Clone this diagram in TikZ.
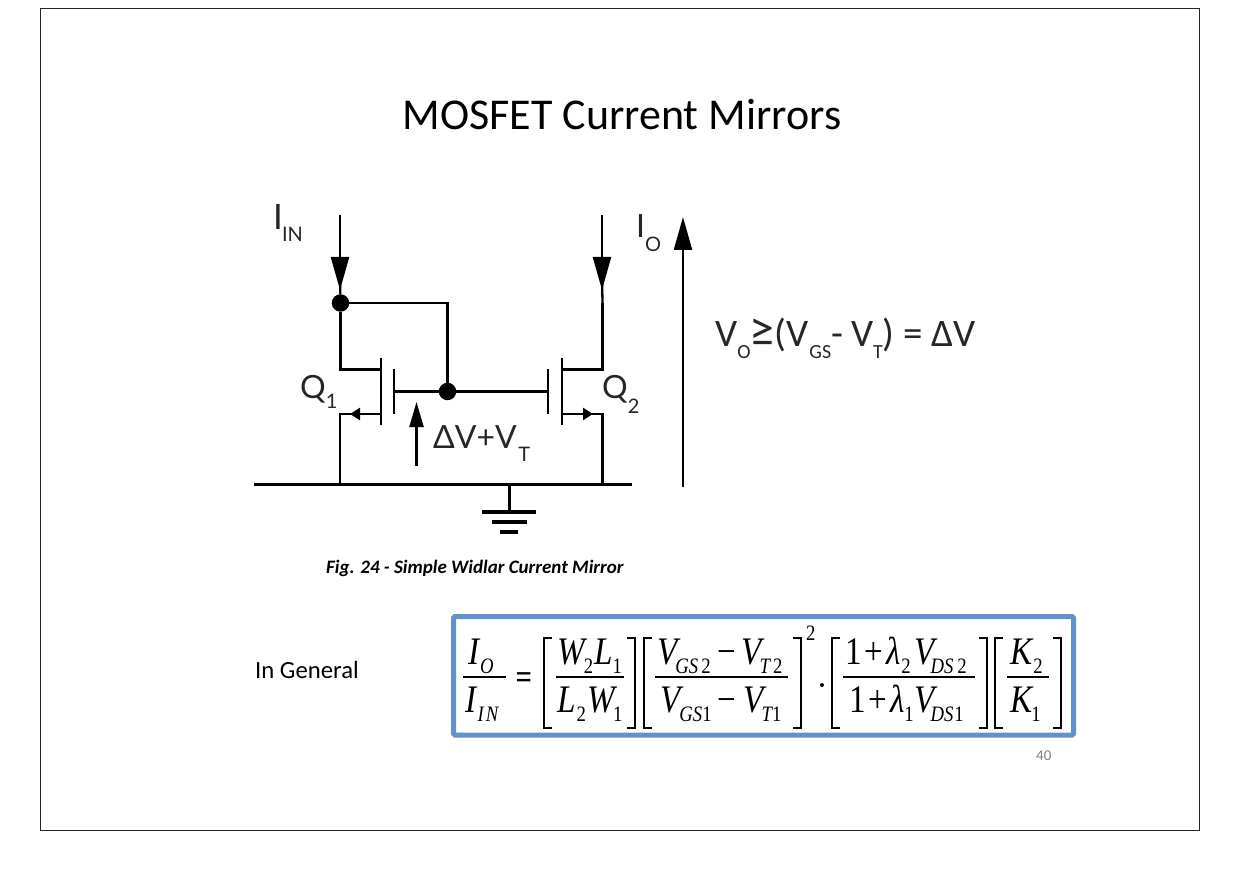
\documentclass[tikz,border=0pt]{standalone}
\usepackage{fontspec}
\setmainfont{Carlito}
\newfontfamily\circfont{Lato}
\newfontfamily\formfont[FakeStretch=0.85]{Liberation Serif}
\usetikzlibrary{arrows.meta,positioning}
\newcommand{\csub}[2][12pt]{\lower#1\hbox{\fontsize{20}{20}\selectfont #2}}
\newcommand{\fsub}[1]{\lower9pt\hbox{\fontsize{22}{22}\selectfont #1}}
\newcommand{\rsub}[1]{\lower9pt\hbox{\fontsize{22}{22}\selectfont\upshape #1}}
\definecolor{boxblue}{HTML}{6094C8}

\begin{document}
\begin{tikzpicture}[
    x=1pt,
    y=-1pt,
    wire/.style={
        draw,
        line width=2.3pt
    },
    railwire/.style={
        draw,
        line width=2.6pt
    },
    gatebar/.style={
        draw,
        line width=2.6pt
    },
    bighead/.style={
        draw,
        line width=2.3pt,
        -{Triangle[length=33pt,width=18pt]}
    },
    midhead/.style={
        draw,
        line width=2.3pt,
        -{Triangle[length=10pt,width=12pt]}
    },
    senseline/.style={
        draw,
        line width=2.3pt,
        -{Triangle[length=25pt,width=14pt]}
    },
    jointdot/.style={
        circle,
        fill=black,
        inner sep=0pt,
        minimum size=17.5pt
    },
    circlabel/.style={
        anchor=base west,
        inner sep=0pt,
        font=\circfont\fontsize{32}{32}\selectfont,
        text=black!85
    },
    formtext/.style={
        anchor=base west,
        inner sep=0pt,
        font=\formfont\itshape\fontsize{39}{39}\selectfont
    },
    formrule/.style={
        draw,
        line width=1.3pt
    },
    bracket/.style={
        draw,
        line width=2pt
    }
]
\useasboundingbox (0,0) rectangle (1240,877);

% Frame and box
\draw[line width=1pt, black!85] (40.5,8.5) rectangle (1199.5,830.5);
\draw[boxblue, line width=5pt, rounded corners=1.5pt] (453.5,616.5) rectangle (1073.5,735);

% Texts
\node [anchor=base, inner sep=0pt, font=\fontsize{44}{44}\selectfont] (title) at (622,130) {MOSFET Current Mirrors};
\node [anchor=base west, inner sep=0pt, font=\bfseries\itshape\fontsize{19}{19}\selectfont] (caption) at (326,573) {Fig. 24 - Simple Widlar Current Mirror};
\node [anchor=base west, inner sep=0pt, font=\fontsize{24.7}{24.7}\selectfont] (general) at (255,678) {In General};
\node [anchor=base west, inner sep=0pt, text=black!50, font=\fontsize{15}{15}\selectfont] (pagenum) at (1036,760) {40};
\node [anchor=base west, inner sep=0pt, text=black!85, font=\fontsize{39}{39}\selectfont] (limit) at (715,347)
    {V\csub{O}\kern-1pt{\fontsize{50}{50}\selectfont ≥}(V\kern1pt\csub{GS}- V\kern-1pt\csub{T}) = ΔV};

% Circuit labels
\node [circlabel, font=\circfont\fontsize{35}{35}\selectfont] (iin) at (273,230) {I\kern-1pt\csub{IN}};
\node [circlabel] (io) at (636,238) {I\csub[14pt]{O}};
\node [circlabel] (qone) at (300,398) {Q\csub[10pt]{1}};
\node [circlabel] (qtwo) at (602,398) {Q\csub[15pt]{2}};
\node [circlabel] (dvvt) at (433,448) {ΔV+V\kern1.5pt\csub[13pt]{T}};

% Circuit nodes
\node [jointdot] (topdot) at (340.5,303) {};
\node [jointdot] (gatedot) at (447.5,391.5) {};
\coordinate (inone) at (340,215);
\coordinate (tipone) at (340,290);
\coordinate (joinone) at (340,275);
\coordinate (intwo) at (602,215);
\coordinate (tiptwo) at (602,290);
\coordinate (jointwo) at (602,275);
\coordinate (drainjoin) at (602.5,303);
\coordinate (topright) at (447.5,303);
\coordinate (drainone) at (381,369.5);
\coordinate (draintwo) at (562,369.5);
\coordinate (sourceone) at (381,414);
\coordinate (sourcetwo) at (562,414);
\coordinate (headone) at (350,414);
\coordinate (headtwo) at (593,414);
\coordinate (groundone) at (340,484.5);
\coordinate (groundtwo) at (602.5,484.5);
\coordinate (railleft) at (254,484.5);
\coordinate (railright) at (632,484.5);
\coordinate (stemtop) at (509.5,484.5);
\coordinate (stembot) at (509.5,512);
\coordinate (plateone) at (394,391.5);
\coordinate (platetwo) at (548,391.5);
\coordinate (sensebot) at (416.5,466);
\coordinate (sensetop) at (416.5,402);
\coordinate (outbot) at (683,487);
\coordinate (outtop) at (683,217);

% Edges
\path [bighead] (inone) -- (tipone);
\path [wire] (joinone) -- (topdot);
\path [bighead] (intwo) -- (tiptwo);
\path [wire] (jointwo) -- (drainjoin);
\path [wire] (topdot) -- (topright) -- (gatedot);
\path [wire] (topdot) |- (drainone);
\path [wire] (drainjoin) |- (draintwo);
\path [wire] (sourceone) -| (groundone);
\path [wire] (sourcetwo) -| (groundtwo);
\path [midhead] (sourceone) -- (headone);
\path [midhead] (sourcetwo) -- (headtwo);
\path [wire] (plateone) -- (gatedot) -- (platetwo);
\path [railwire] (railleft) -- (railright);
\path [wire] (stemtop) -- (stembot);
\path [senseline] (sensebot) -- (sensetop);
\path [bighead] (outbot) -- (outtop);

% MOSFET plates
\path [gatebar] (381,358) -- (381,425);
\path [gatebar] (394,369) -- (394,414);
\path [gatebar] (548,369) -- (548,414);
\path [gatebar] (562,358) -- (562,425);

% Ground bars
\path [draw, line width=3.4pt] (482,512) -- (536,512);
\path [draw, line width=3.4pt] (492,522) -- (527,522);
\path [draw, line width=3.4pt] (500,532) -- (518,532);

% Formula
\node [formtext] (ionum) at (468,664) {I\kern1pt\fsub{O}};
\node [formtext] (iiden) at (465.5,712) {I\kern1pt\fsub{I\kern2pt N}};
\path [formrule] (463,677) -- (506,677);
\node [formtext, font=\formfont\bfseries\fontsize{34}{34}\selectfont] (equal) at (515.5,688) {=};
\path [bracket] (552,638) -| (544,728) -- (552,728);
\node [formtext] (wlnum) at (557,664) {W\kern-1pt\rsub{2}\kern1pt L\rsub{1}};
\node [formtext] (lwden) at (557,712) {L\kern1pt\rsub{2}\kern1.5pt W\kern-2pt\rsub{1}};
\path [formrule] (556,677) -- (624,677);
\path [bracket] (627,638) -| (635,728) -- (627,728);
\path [bracket] (652,638) -| (644,728) -- (652,728);
\node [formtext] (vgsnum) at (657,664) {V\kern-2pt\fsub{GS\kern3pt\upshape 2}\kern7pt\upshape −\kern5pt\itshape V\kern-2pt\fsub{T\kern3pt\upshape 2}};
\node [formtext] (vgsden) at (660,712) {V\kern-1pt\fsub{GS\upshape 1}\kern6pt\upshape −\kern7pt\itshape V\kern-2pt\fsub{T\upshape 1}};
\path [formrule] (655,677) -- (788,677);
\path [bracket] (793,638) -| (801,728) -- (793,728);
\node [formtext, font=\formfont\fontsize{22}{22}\selectfont] (square) at (806,640) {2};
\node [jointdot, minimum size=4pt] (product) at (822,685) {};
\path [bracket] (840,638) -| (832,728) -- (840,728);
\node [formtext] (lamnum) at (845,664) {\upshape 1\kern2.5pt+\kern4pt\itshape λ\rsub{2}\kern3.6pt V\kern-4pt\fsub{DS\kern4pt\upshape 2}};
\node [formtext] (lamden) at (849,712) {\upshape 1\kern2.5pt+\kern4pt\itshape λ\kern-1pt\rsub{1}\kern0.6pt V\kern-4pt\fsub{DS\kern1pt\upshape 1}};
\path [formrule] (843,677) -- (975,677);
\path [bracket] (979,638) -| (987,728) -- (979,728);
\path [bracket] (1003,638) -| (995,728) -- (1003,728);
\node [formtext] (knum) at (1010,664) {K\kern1pt\rsub{2}};
\node [formtext] (kden) at (1010,712) {K\kern-1pt\rsub{1}};
\path [formrule] (1007,677) -- (1049,677);
\path [bracket] (1053,638) -| (1061,728) -- (1053,728);

\end{tikzpicture}
\end{document}
